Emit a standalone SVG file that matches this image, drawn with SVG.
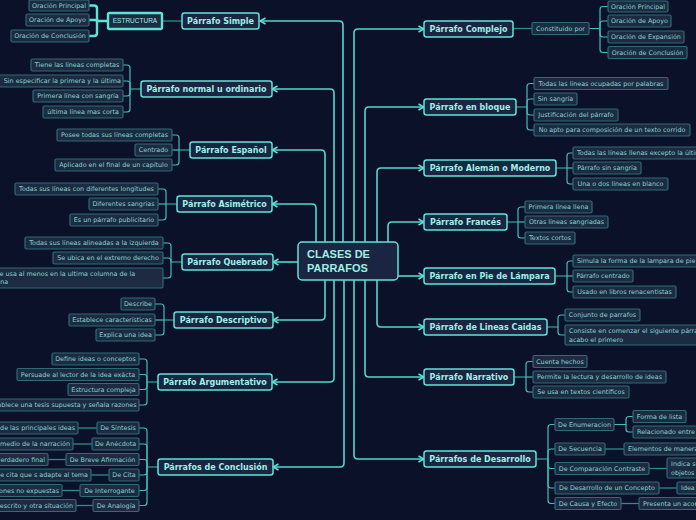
<svg xmlns="http://www.w3.org/2000/svg" width="696" height="520" viewBox="0 0 696 520">
<defs>
<style>
.m{fill:#1b2541;stroke:#5ee3d6;stroke-width:1.5}
.mt{font-family:"DejaVu Sans",sans-serif;font-weight:bold;font-size:8px;fill:#9defe6;text-anchor:middle}
.s{fill:#1c2b42;stroke:#2e6b74;stroke-width:1.2}
.st{font-family:"DejaVu Sans",sans-serif;font-size:6.4px;fill:#86d3ce;text-anchor:middle}
.se{text-anchor:end}
.ss{text-anchor:start}
.c{fill:none;stroke:#52d8cc;stroke-width:1.6;marker-end:url(#ah)}
.b{fill:none;stroke:#42bdb4;stroke-width:1.2}
.bb{fill:none;stroke:#5ee3d6;stroke-width:2.4}
.l{fill:none;stroke:#2f8a88;stroke-width:1.3}
</style>
<marker id="ah" viewBox="0 0 8 8" refX="7" refY="4" markerWidth="8" markerHeight="8" markerUnits="userSpaceOnUse" orient="auto">
<path d="M1.5,1 L7,4 L1.5,7" fill="none" stroke="#5ee3d6" stroke-width="1.5"/>
</marker>
</defs>
<rect x="0" y="0" width="696" height="520" fill="#0b1129"/>

<g id="connectors">
<path class="c" d="M343,242 V25 Q343,21 339,21 H260"/>
<path class="c" d="M334,242 V93 Q334,89 330,89 H272"/>
<path class="c" d="M325,242 V154 Q325,150 321,150 H272"/>
<path class="c" d="M316,242 V208 Q316,204 312,204 H272"/>
<path class="c" d="M298,262 H273"/>
<path class="c" d="M325,280 V316 Q325,320 321,320 H273"/>
<path class="c" d="M334,280 V378 Q334,382 330,382 H272"/>
<path class="c" d="M344,280 V463 Q344,467 340,467 H273"/>
<path class="c" d="M354,242 V33 Q354,29 358,29 H424"/>
<path class="c" d="M365,242 V111 Q365,107 369,107 H424"/>
<path class="c" d="M377,242 V172 Q377,168 381,168 H424"/>
<path class="c" d="M388,242 V226 Q388,222 392,222 H424"/>
<path class="c" d="M398,276 H424"/>
<path class="c" d="M377,280 V323 Q377,327 381,327 H424"/>
<path class="c" d="M365,280 V373 Q365,377 369,377 H424"/>
<path class="c" d="M354,280 V455 Q354,459 358,459 H424"/>

<path class="l" d="M162,21 H182"/>
<path class="bb" d="M108,21 H97 V8.5 Q97,5.5 94,5.5 H89"/>
<path class="bb" d="M97,21 V20 H89"/>
<path class="bb" d="M97,21 V33 Q97,36 94,36 H89"/>
<path class="b" d="M141,89 H130 V68 Q130,65 127,65 H123"/>
<path class="b" d="M130,89 V84 Q130,81 127,81 H123"/>
<path class="b" d="M130,89 V93 Q130,96 127,96 H123"/>
<path class="b" d="M130,89 V109 Q130,112 127,112 H123"/>
<path class="b" d="M190,150 H179 V138 Q179,135 176,135 H172"/>
<path class="b" d="M179,150 H172"/>
<path class="b" d="M179,150 V162 Q179,165 176,165 H172"/>
<path class="b" d="M177,204 H166 V192 Q166,189 163,189 H158"/>
<path class="b" d="M166,204 H158"/>
<path class="b" d="M166,204 V217 Q166,220 163,220 H158"/>
<path class="b" d="M182,262 H171 V246 Q171,243 168,243 H163"/>
<path class="b" d="M171,262 V261 Q171,258 168,258 H163"/>
<path class="b" d="M171,262 V275 Q171,278 168,278 H163"/>
<path class="b" d="M174,320 H164 V307 Q164,304 161,304 H155"/>
<path class="b" d="M164,320 H155"/>
<path class="b" d="M164,320 V332 Q164,335 161,335 H155"/>
<path class="b" d="M158,382 H147 V362 Q147,359 144,359 H139"/>
<path class="b" d="M147,382 V377.5 Q147,374.5 144,374.5 H139"/>
<path class="b" d="M147,382 V386.5 Q147,389.5 144,389.5 H139"/>
<path class="b" d="M147,382 V402 Q147,405 144,405 H139"/>
<path class="b" d="M158,467 H147 V431 Q147,428 144,428 H139"/>
<path class="b" d="M147,467 V447 Q147,444 144,444 H139"/>
<path class="b" d="M147,467 V462.5 Q147,459.5 144,459.5 H139"/>
<path class="b" d="M147,467 V472 Q147,475 144,475 H139"/>
<path class="b" d="M147,467 V487.5 Q147,490.5 144,490.5 H139"/>
<path class="b" d="M147,467 V502.5 Q147,505.5 144,505.5 H139"/>
<path class="l" d="M78,428 H97"/>
<path class="l" d="M73,444 H92"/>
<path class="l" d="M48,459.5 H66"/>
<path class="l" d="M91,475 H109"/>
<path class="l" d="M62,490.5 H80"/>
<path class="l" d="M76,505.5 H93"/>

<path class="l" d="M513,28.5 H532"/>
<path class="b" d="M589,28.5 H600 V9.5 Q600,6.5 603,6.5 H608"/>
<path class="b" d="M600,28.5 V24 Q600,21 603,21 H608"/>
<path class="b" d="M600,28.5 V34 Q600,37 603,37 H608"/>
<path class="b" d="M600,28.5 V49.5 Q600,52.5 603,52.5 H608"/>
<path class="b" d="M516,107 H527 V86.5 Q527,83.5 530,83.5 H534"/>
<path class="b" d="M527,107 V102 Q527,99 530,99 H534"/>
<path class="b" d="M527,107 V112 Q527,115 530,115 H534"/>
<path class="b" d="M527,107 V127 Q527,130 530,130 H534"/>
<path class="b" d="M556,168 H567 V156 Q567,153 570,153 H573"/>
<path class="b" d="M567,168 H573"/>
<path class="b" d="M567,168 V181 Q567,184 570,184 H573"/>
<path class="b" d="M507,222 H518 V210 Q518,207 521,207 H525"/>
<path class="b" d="M518,222 H525"/>
<path class="b" d="M518,222 V235 Q518,238 521,238 H525"/>
<path class="b" d="M555,276 H567 V264 Q567,261 570,261 H573"/>
<path class="b" d="M567,276 H573"/>
<path class="b" d="M567,276 V289 Q567,292 570,292 H573"/>
<path class="b" d="M547,327 H558 V318 Q558,315 561,315 H565"/>
<path class="b" d="M558,327 V332 Q558,335 561,335 H565"/>
<path class="b" d="M514,377 H526 V364.5 Q526,361.5 529,361.5 H533"/>
<path class="b" d="M526,377 H533"/>
<path class="b" d="M526,377 V389 Q526,392 529,392 H533"/>
<path class="b" d="M536,459 H548 V427.5 Q548,424.5 551,424.5 H555"/>
<path class="b" d="M548,459 V452 Q548,449 551,449 H555"/>
<path class="b" d="M548,459 V465.5 Q548,468.5 551,468.5 H555"/>
<path class="b" d="M548,459 V485 Q548,488 551,488 H555"/>
<path class="b" d="M548,459 V500.5 Q548,503.5 551,503.5 H555"/>
<path class="b" d="M614,424.5 H626 V419.5 Q626,416.5 629,416.5 H633"/>
<path class="b" d="M626,424.5 V429 Q626,432 629,432 H633"/>
<path class="l" d="M605,449 H624"/>
<path class="l" d="M649,468.5 H667"/>
<path class="l" d="M659,488 H677"/>
<path class="l" d="M621,503.5 H639"/>
</g>

<g id="central">
<rect x="298" y="242" width="100" height="38" rx="4" class="m"/>
<text x="307" y="258" font-family="'Liberation Sans',Arial,sans-serif" font-weight="bold" font-size="11" fill="#9defe6">CLASES DE</text>
<text x="307" y="272" font-family="'Liberation Sans',Arial,sans-serif" font-weight="bold" font-size="11" fill="#9defe6">PARRAFOS</text>
</g>

<g id="simple"><rect x="182" y="13" width="77" height="16" rx="2.5" class="m"/><text x="220.5" y="24" class="mt">Párrafo Simple</text></g>
<g id="normal"><rect x="141" y="81" width="131" height="16" rx="2.5" class="m"/><text x="206.5" y="92" class="mt">Párrafo normal u ordinario</text></g>
<g id="espanol"><rect x="190" y="142" width="82" height="16" rx="2.5" class="m"/><text x="231" y="153" class="mt">Párrafo Español</text></g>
<g id="asimetrico"><rect x="177" y="196" width="95" height="16" rx="2.5" class="m"/><text x="224.5" y="207" class="mt">Párrafo Asimétrico</text></g>
<g id="quebrado"><rect x="182" y="254" width="91" height="16" rx="2.5" class="m"/><text x="227.5" y="265" class="mt">Párrafo Quebrado</text></g>
<g id="descriptivo"><rect x="174" y="312" width="99" height="16" rx="2.5" class="m"/><text x="223.5" y="323" class="mt">Párrafo Descriptivo</text></g>
<g id="argumentativo"><rect x="158" y="374" width="114" height="16" rx="2.5" class="m"/><text x="215" y="385" class="mt">Párrafo Argumentativo</text></g>
<g id="conclusion"><rect x="158" y="459" width="115" height="16" rx="2.5" class="m"/><text x="215.5" y="470" class="mt">Párrafos de Conclusión</text></g>

<g id="complejo"><rect x="424" y="21" width="89" height="16" rx="2.5" class="m"/><text x="468.5" y="32" class="mt">Párrafo Complejo</text></g>
<g id="bloque"><rect x="424" y="99" width="92" height="16" rx="2.5" class="m"/><text x="470" y="110" class="mt">Párrafo en bloque</text></g>
<g id="aleman"><rect x="424" y="160" width="132" height="16" rx="2.5" class="m"/><text x="490" y="171" class="mt">Párrafo Alemán o Moderno</text></g>
<g id="frances"><rect x="424" y="214" width="83" height="16" rx="2.5" class="m"/><text x="465.5" y="225" class="mt">Párrafo Francés</text></g>
<g id="lampara"><rect x="424" y="268" width="131" height="16" rx="2.5" class="m"/><text x="489.5" y="279" class="mt">Párrafo en Pie de Lámpara</text></g>
<g id="caidas"><rect x="424" y="319" width="123" height="16" rx="2.5" class="m"/><text x="485.5" y="330" class="mt">Párrafo de Lineas Caidas</text></g>
<g id="narrativo"><rect x="424" y="369" width="90" height="16" rx="2.5" class="m"/><text x="469" y="380" class="mt">Párrafo Narrativo</text></g>
<g id="desarrollo"><rect x="424" y="451" width="112" height="16" rx="2.5" class="m"/><text x="480" y="462" class="mt">Párrafos de Desarrollo</text></g>

<g id="estructura"><rect x="108" y="13" width="54" height="16" rx="1.5" fill="#1c2b42" stroke="#5ee3d6" stroke-width="2.4"/><text x="135" y="23.3" font-family="'Liberation Sans',Arial,sans-serif" font-size="6.5" fill="#9defe6" text-anchor="middle">ESTRUCTURA</text></g>
<g id="s-principal"><rect x="29" y="0" width="60" height="11" rx="1.5" class="s"/><text x="59" y="7.8" class="st">Oración Principal</text></g>
<g id="s-apoyo"><rect x="26" y="14" width="63" height="12" rx="1.5" class="s"/><text x="57.5" y="22.3" class="st">Oración de Apoyo</text></g>
<g id="s-conclusion"><rect x="11" y="30" width="78" height="12" rx="1.5" class="s"/><text x="50" y="38.3" class="st">Oración de Conclusión</text></g>

<g id="n1"><rect x="31" y="59" width="92" height="12" rx="1.5" class="s"/><text x="77" y="67.3" class="st">Tiene las líneas completas</text></g>
<g id="n2"><rect x="-6" y="75" width="129" height="12" rx="1.5" class="s"/><text x="121" y="83.3" class="st se">Sin especificar la primera y la última</text></g>
<g id="n3"><rect x="33" y="90" width="90" height="12" rx="1.5" class="s"/><text x="78" y="98.3" class="st">Primera línea con sangría</text></g>
<g id="n4"><rect x="43" y="106" width="80" height="12" rx="1.5" class="s"/><text x="83" y="114.3" class="st">última línea mas corta</text></g>

<g id="e1"><rect x="57" y="129" width="115" height="12" rx="1.5" class="s"/><text x="114.5" y="137.3" class="st">Posee todas sus líneas completas</text></g>
<g id="e2"><rect x="135" y="144" width="37" height="12" rx="1.5" class="s"/><text x="153.5" y="152.3" class="st">Centrado</text></g>
<g id="e3"><rect x="55" y="159" width="117" height="12" rx="1.5" class="s"/><text x="113.5" y="167.3" class="st">Aplicado en el final de un capítulo</text></g>

<g id="a1"><rect x="15" y="183" width="143" height="12" rx="1.5" class="s"/><text x="86.5" y="191.3" class="st">Todas sus líneas con diferentes longitudes</text></g>
<g id="a2"><rect x="89" y="198" width="69" height="12" rx="1.5" class="s"/><text x="123.5" y="206.3" class="st">Diferentes sangrías</text></g>
<g id="a3"><rect x="70" y="214" width="88" height="12" rx="1.5" class="s"/><text x="114" y="222.3" class="st">Es un párrafo publicitario</text></g>

<g id="q1"><rect x="25" y="237" width="138" height="12" rx="1.5" class="s"/><text x="94" y="245.3" class="st">Todas sus líneas alineadas a la izquierda</text></g>
<g id="q2"><rect x="53" y="252" width="110" height="12" rx="1.5" class="s"/><text x="108" y="260.3" class="st">Se ubica en el extremo derecho</text></g>
<g id="q3"><rect x="-16" y="268" width="179" height="20" rx="1.5" class="s"/><text x="-4.5" y="276" class="st ss">Se usa al menos en la ultima columna de la</text><text x="-13.5" y="284" class="st ss">página</text></g>

<g id="d1"><rect x="121" y="298" width="34" height="12" rx="1.5" class="s"/><text x="138" y="306.3" class="st">Describe</text></g>
<g id="d2"><rect x="69" y="314" width="86" height="12" rx="1.5" class="s"/><text x="112" y="322.3" class="st">Establece características</text></g>
<g id="d3"><rect x="96" y="329" width="59" height="12" rx="1.5" class="s"/><text x="125.5" y="337.3" class="st">Explica una idea</text></g>

<g id="g1"><rect x="52" y="353" width="87" height="12" rx="1.5" class="s"/><text x="95.5" y="361.3" class="st">Define ideas o conceptos</text></g>
<g id="g2"><rect x="17" y="368.5" width="122" height="12" rx="1.5" class="s"/><text x="78" y="376.8" class="st">Persuade al lector de la idea exácta</text></g>
<g id="g3"><rect x="68" y="383.5" width="71" height="12" rx="1.5" class="s"/><text x="103.5" y="391.8" class="st">Estructura compleja</text></g>
<g id="g4"><rect x="-20" y="399" width="159" height="12" rx="1.5" class="s"/><text x="136.5" y="407.3" class="st se">Establece una tesis supuesta y señala razones</text></g>

<g id="c1"><rect x="97" y="422" width="42" height="12" rx="1.5" class="s"/><text x="118" y="430.3" class="st">De Síntesis</text></g>
<g id="c2"><rect x="92" y="438" width="47" height="12" rx="1.5" class="s"/><text x="115.5" y="446.3" class="st">De Anécdota</text></g>
<g id="c3"><rect x="66" y="453.5" width="73" height="12" rx="1.5" class="s"/><text x="102.5" y="461.8" class="st">De Breve Afirmación</text></g>
<g id="c4"><rect x="109" y="469" width="30" height="12" rx="1.5" class="s"/><text x="124" y="477.3" class="st">De Cita</text></g>
<g id="c5"><rect x="80" y="484.5" width="59" height="12" rx="1.5" class="s"/><text x="109.5" y="492.8" class="st">De Interrogante</text></g>
<g id="c6"><rect x="93" y="499.5" width="46" height="12" rx="1.5" class="s"/><text x="116" y="507.8" class="st">De Analogía</text></g>
<g id="c1a"><rect x="-40" y="422" width="118" height="12" rx="1.5" class="s"/><text x="75" y="430.3" class="st se">Resumen de las principales ideas</text></g>
<g id="c2a"><rect x="-60" y="438" width="133" height="12" rx="1.5" class="s"/><text x="70" y="446.3" class="st se">Cuenta una anécdota en medio de la narración</text></g>
<g id="c3a"><rect x="-50" y="453.5" width="98" height="12" rx="1.5" class="s"/><text x="45" y="461.8" class="st se">Anuncia el verdadero final</text></g>
<g id="c4a"><rect x="-40" y="469" width="131" height="12" rx="1.5" class="s"/><text x="88" y="477.3" class="st se">Frase de cita que s adapte al tema</text></g>
<g id="c5a"><rect x="-50" y="484.5" width="112" height="12" rx="1.5" class="s"/><text x="59" y="492.8" class="st se">Preguntas de situaciones no expuestas</text></g>
<g id="c6a"><rect x="-50" y="499.5" width="126" height="12" rx="1.5" class="s"/><text x="73" y="507.8" class="st se">Compara lo descrito y otra situación</text></g>

<g id="constituido"><rect x="532" y="22.5" width="57" height="12" rx="1.5" class="s"/><text x="560.5" y="30.8" class="st">Constituido por</text></g>
<g id="k1"><rect x="608" y="1" width="60" height="11" rx="1.5" class="s"/><text x="638" y="8.8" class="st">Oración Principal</text></g>
<g id="k2"><rect x="608" y="15" width="63" height="12" rx="1.5" class="s"/><text x="639.5" y="23.3" class="st">Oración de Apoyo</text></g>
<g id="k3"><rect x="608" y="31" width="76" height="12" rx="1.5" class="s"/><text x="646" y="39.3" class="st">Oración de Expansión</text></g>
<g id="k4"><rect x="608" y="46.5" width="79" height="12" rx="1.5" class="s"/><text x="647.5" y="54.8" class="st">Oración de Conclusión</text></g>

<g id="b1"><rect x="534" y="77.5" width="134" height="12" rx="1.5" class="s"/><text x="601" y="85.8" class="st">Todas las líneas ocupadas por palabras</text></g>
<g id="b2"><rect x="534" y="93" width="43" height="12" rx="1.5" class="s"/><text x="555.5" y="101.3" class="st">Sin sangría</text></g>
<g id="b3"><rect x="534" y="109" width="84" height="12" rx="1.5" class="s"/><text x="576" y="117.3" class="st">Justificación del párrafo</text></g>
<g id="b4"><rect x="534" y="124" width="156" height="12" rx="1.5" class="s"/><text x="612" y="132.3" class="st">No apto para composición de un texto corrido</text></g>

<g id="al1"><rect x="573" y="147" width="140" height="12" rx="1.5" class="s"/><text x="577" y="155.3" class="st ss">Todas las líneas llenas excepto la última</text></g>
<g id="al2"><rect x="573" y="162" width="68" height="12" rx="1.5" class="s"/><text x="607" y="170.3" class="st">Párrafo sin sangría</text></g>
<g id="al3"><rect x="573" y="178" width="95" height="12" rx="1.5" class="s"/><text x="620.5" y="186.3" class="st">Una o dos líneas en blanco</text></g>

<g id="f1"><rect x="525" y="201" width="67" height="12" rx="1.5" class="s"/><text x="558.5" y="209.3" class="st">Primera línea llena</text></g>
<g id="f2"><rect x="525" y="216" width="83" height="12" rx="1.5" class="s"/><text x="566.5" y="224.3" class="st">Otras líneas sangriadas</text></g>
<g id="f3"><rect x="525" y="232" width="50" height="12" rx="1.5" class="s"/><text x="550" y="240.3" class="st">Textos cortos</text></g>

<g id="p1"><rect x="573" y="255" width="135" height="12" rx="1.5" class="s"/><text x="577" y="263.3" class="st ss">Simula la forma de la lampara de pie</text></g>
<g id="p2"><rect x="573" y="270" width="60" height="12" rx="1.5" class="s"/><text x="603" y="278.3" class="st">Párrafo centrado</text></g>
<g id="p3"><rect x="573" y="286" width="103" height="12" rx="1.5" class="s"/><text x="624.5" y="294.3" class="st">Usado en libros renacentistas</text></g>

<g id="lc1"><rect x="565" y="309" width="75" height="12" rx="1.5" class="s"/><text x="602.5" y="317.3" class="st">Conjunto de parrafos</text></g>
<g id="lc2"><rect x="565" y="325" width="160" height="20" rx="1.5" class="s"/><text x="569" y="333" class="st ss">Consiste en comenzar el siguiente párrafo donde</text><text x="569" y="341.5" class="st ss">acabo el primero</text></g>

<g id="na1"><rect x="533" y="355.5" width="54" height="12" rx="1.5" class="s"/><text x="560" y="363.8" class="st">Cuenta hechos</text></g>
<g id="na2"><rect x="533" y="371" width="133" height="12" rx="1.5" class="s"/><text x="599.5" y="379.3" class="st">Permite la lectura y desarrollo de ideas</text></g>
<g id="na3"><rect x="533" y="386" width="96" height="12" rx="1.5" class="s"/><text x="581" y="394.3" class="st">Se usa en textos científicos</text></g>

<g id="de1"><rect x="555" y="418.5" width="59" height="12" rx="1.5" class="s"/><text x="584.5" y="426.8" class="st">De Enumeracion</text></g>
<g id="de2"><rect x="555" y="443" width="50" height="12" rx="1.5" class="s"/><text x="580" y="451.3" class="st">De Secuencia</text></g>
<g id="de3"><rect x="555" y="462.5" width="94" height="12" rx="1.5" class="s"/><text x="602" y="470.8" class="st">De Comparación Contraste</text></g>
<g id="de4"><rect x="555" y="482" width="104" height="12" rx="1.5" class="s"/><text x="607" y="490.3" class="st">De Desarrollo de un Concepto</text></g>
<g id="de5"><rect x="555" y="497.5" width="66" height="12" rx="1.5" class="s"/><text x="588" y="505.8" class="st">De Causa y Efecto</text></g>
<g id="de1a"><rect x="633" y="410.5" width="53" height="12" rx="1.5" class="s"/><text x="659.5" y="418.8" class="st">Forma de lista</text></g>
<g id="de1b"><rect x="633" y="426" width="80" height="12" rx="1.5" class="s"/><text x="637" y="434.3" class="st ss">Relacionado entre sí</text></g>
<g id="de2a"><rect x="624" y="443" width="110" height="12" rx="1.5" class="s"/><text x="628" y="451.3" class="st ss">Elementos de manera secuencial</text></g>
<g id="de3a"><rect x="667" y="458" width="60" height="20" rx="1.5" class="s"/><text x="671" y="466" class="st ss">Indica semejanzas</text><text x="671" y="474.5" class="st ss">objetos</text></g>
<g id="de4a"><rect x="677" y="482" width="50" height="12" rx="1.5" class="s"/><text x="681" y="490.3" class="st ss">Idea principal</text></g>
<g id="de5a"><rect x="639" y="497.5" width="90" height="12" rx="1.5" class="s"/><text x="643" y="505.8" class="st ss">Presenta un acontecimiento</text></g>
</svg>
